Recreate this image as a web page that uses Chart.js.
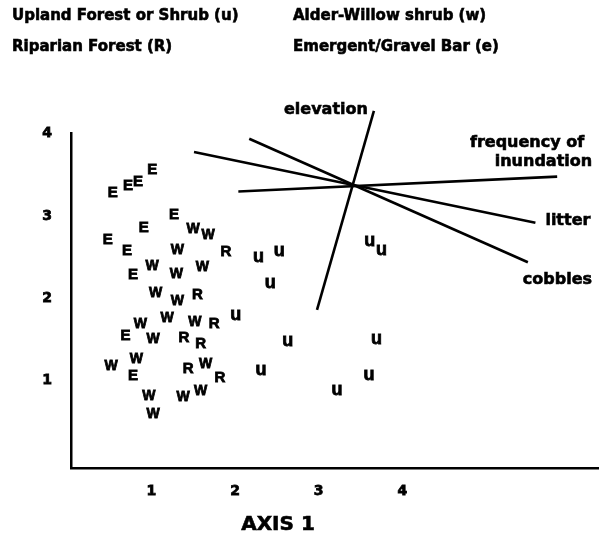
<!DOCTYPE html>
<html>
<head>
<meta charset="utf-8">
<script src="https://cdn.jsdelivr.net/npm/chart.js@4.4.0/dist/chart.umd.min.js"></script>
<style>
  body { margin: 0; background: #fff; }
  canvas { display: block; }
</style>
</head>
<body>
<canvas id="ordination" width="599" height="535"></canvas>
<script>
// site scores, one pair of arrays per vegetation group
const emergentX = [0.54, 0.72, 0.84, 1.01, 1.27, 0.91, 0.48, 0.71, 0.78, 0.69, 0.78];
const emergentY = [3.28, 3.37, 3.42, 3.56, 3.01, 2.86, 2.71, 2.58, 2.29, 1.54, 1.06];

const willowX = [1.50, 1.68, 1.31, 1.01, 1.30, 1.61, 1.05, 1.31, 1.19, 0.87, 1.52, 1.02, 0.52, 0.82, 1.65, 0.97, 1.38, 1.59, 1.02];
const willowY = [2.84, 2.77, 2.59, 2.39, 2.30, 2.38, 2.07, 1.97, 1.76, 1.69, 1.71, 1.51, 1.18, 1.26, 1.20, 0.81, 0.80, 0.87, 0.60];

const riparianX = [1.89, 1.55, 1.75, 1.39, 1.59, 1.44, 1.82];
const riparianY = [2.56, 2.04, 1.69, 1.52, 1.45, 1.15, 1.04];

const uplandX = [2.28, 2.53, 2.42, 2.01, 2.63, 2.31, 3.22, 3.61, 3.75, 3.69, 3.60];
const uplandY = [2.48, 2.55, 2.16, 1.77, 1.46, 1.11, 0.86, 2.67, 2.56, 1.48, 1.04];

// environmental vectors (start / end in axis units)
const vectorNames = ["elevation", "frequency of inundation", "litter", "cobbles"];
const vectorX0 = [2.98, 2.04, 1.51, 2.17];
const vectorY0 = [1.86, 3.30, 3.78, 3.94];
const vectorX1 = [3.66, 5.85, 5.59, 5.50];
const vectorY1 = [4.28, 3.48, 2.92, 2.44];

const tickValues = [1, 2, 3, 4];
const legendLines = [
  ["Upland Forest or Shrub (u)", "Alder-Willow shrub (w)"],
  ["Riparian Forest (R)", "Emergent/Gravel Bar (e)"]
];
const axisTitle = "AXIS 1";

const FONT = '"DejaVu Sans", "Liberation Sans", sans-serif';
const MARK_FONT = '"Liberation Sans", Arial, sans-serif';

function toPoints(xs, ys) {
  return xs.map((x, i) => ({ x: x, y: ys[i] }));
}

const groups = [
  { letter: "E", size: 15, x: emergentX, y: emergentY },
  { letter: "W", size: 14, x: willowX, y: willowY },
  { letter: "R", size: 15, x: riparianX, y: riparianY },
  { letter: "u", size: 18, x: uplandX, y: uplandY }
];

const datasets = [];
groups.forEach((g) => {
  datasets.push({
    label: g.letter,
    letter: g.letter,
    letterSize: g.size,
    data: toPoints(g.x, g.y),
    pointRadius: 0,
    showLine: false
  });
});
vectorNames.forEach((name, i) => {
  datasets.push({
    label: name,
    data: [{ x: vectorX0[i], y: vectorY0[i] }, { x: vectorX1[i], y: vectorY1[i] }],
    showLine: true,
    borderColor: "#000",
    borderWidth: 2.6,
    pointRadius: 0,
    clip: false
  });
});

// heavy print look: fill plus a thin outline
function boldText(ctx, text, x, y, w) {
  ctx.fillText(text, x, y);
  ctx.lineWidth = w;
  ctx.strokeText(text, x, y);
}

// draw each site as its group letter
const letterPlugin = {
  id: "letters",
  afterDatasetsDraw(chart) {
    const ctx = chart.ctx;
    ctx.save();
    ctx.fillStyle = "#000";
    ctx.strokeStyle = "#000";
    ctx.textAlign = "center";
    ctx.textBaseline = "middle";
    chart.data.datasets.forEach((ds, i) => {
      if (!ds.letter) return;
      ctx.font = "bold " + ds.letterSize + "px " + MARK_FONT;
      chart.getDatasetMeta(i).data.forEach((pt) => {
        boldText(ctx, ds.letter, pt.x, ds.letter === "u" ? pt.y - 2 : pt.y, 0.8);
      });
    });
    ctx.restore();
  }
};

// vector labels, legend text and axis title
const textPlugin = {
  id: "texts",
  afterDraw(chart) {
    const ctx = chart.ctx;
    const xs = chart.scales.x;
    const ys = chart.scales.y;
    const end = (i) => ({ x: xs.getPixelForValue(vectorX1[i]), y: ys.getPixelForValue(vectorY1[i]) });
    ctx.save();
    ctx.fillStyle = "#000";
    ctx.strokeStyle = "#000";
    ctx.textBaseline = "middle";
    ctx.font = "bold 16px " + FONT;

    let p = end(0);
    ctx.textAlign = "right";
    boldText(ctx, "elevation", p.x - 6, p.y - 1, 0.6);

    p = end(1);
    boldText(ctx, "frequency of", p.x + 27, p.y - 34, 0.6);
    boldText(ctx, "inundation", p.x + 35, p.y - 15, 0.6);

    p = end(2);
    ctx.textAlign = "left";
    boldText(ctx, "litter", p.x + 10, p.y - 2, 0.6);

    p = end(3);
    boldText(ctx, "cobbles", p.x - 5, p.y + 18, 0.6);

    ctx.font = "bold 15px " + FONT;
    legendLines.forEach((row, r) => {
      boldText(ctx, row[0], 12, 16 + r * 31, 0.6);
      boldText(ctx, row[1], 293, 16 + r * 31, 0.6);
    });

    ctx.textAlign = "center";
    ctx.font = "bold 20px " + FONT;
    boldText(ctx, axisTitle, 278, 525, 0.6);
    ctx.restore();
  }
};

const fixTicks = (scale) => {
  scale.ticks = tickValues.map((v) => ({ value: v }));
};

const tickStyle = (pad) => ({
  color: "#000",
  padding: pad,
  textStrokeColor: "#000",
  textStrokeWidth: 0.8,
  font: { family: FONT, weight: "bold", size: 14 }
});

new Chart(document.getElementById("ordination"), {
  type: "scatter",
  data: { datasets: datasets },
  options: {
    responsive: false,
    animation: false,
    layout: { padding: { top: 133, right: 0, left: 0, bottom: 0 } },
    plugins: { legend: { display: false }, tooltip: { enabled: false } },
    scales: {
      x: {
        type: "linear",
        min: 0.04,
        max: 6.35,
        grid: { display: false, drawTicks: false },
        border: { color: "#000", width: 2.5 },
        ticks: tickStyle(15),
        afterBuildTicks: fixTicks,
        afterFit: (scale) => { scale.height = 67; }
      },
      y: {
        type: "linear",
        min: -0.06,
        max: 4.01,
        grid: { display: false, drawTicks: false },
        border: { color: "#000", width: 2.5 },
        ticks: tickStyle(19),
        afterBuildTicks: fixTicks,
        afterFit: (scale) => { scale.width = 71; }
      }
    }
  },
  plugins: [letterPlugin, textPlugin]
});
</script>
</body>
</html>
